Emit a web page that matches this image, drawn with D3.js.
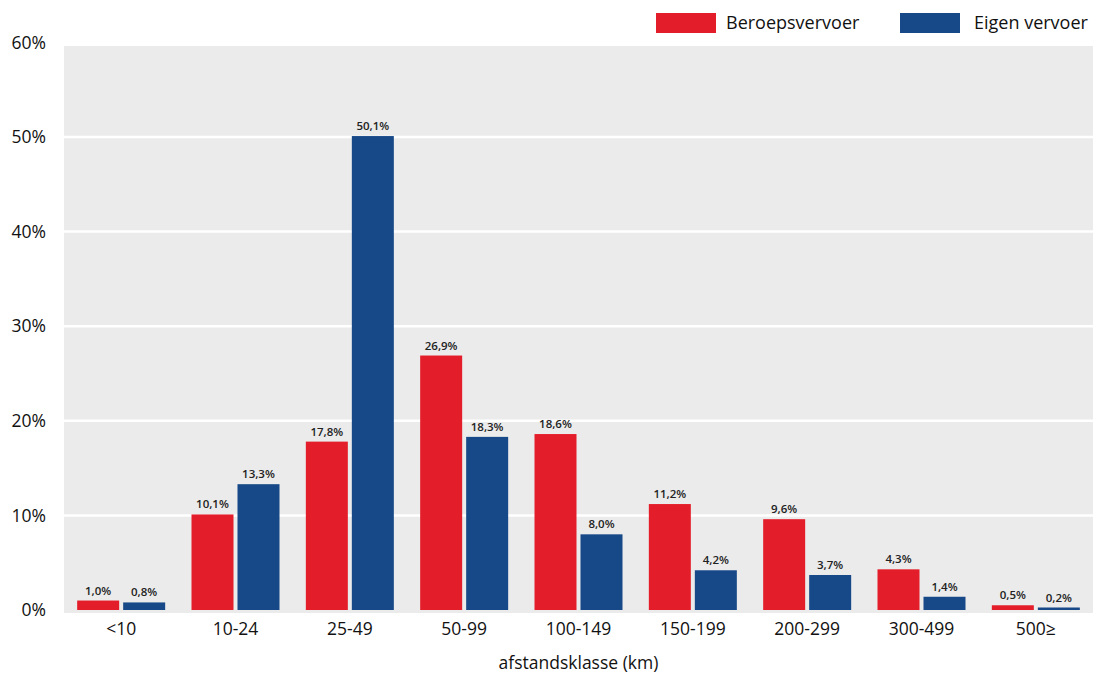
<!DOCTYPE html>
<html><head><meta charset="utf-8">
<script src="https://cdn.jsdelivr.net/npm/d3@7"></script>
<style>
body{margin:0;background:#fff;}
svg{display:block;font-family:"Open Sans","Noto Sans",sans-serif;}
</style></head>
<body>
<svg id="chart" width="1096" height="675"></svg>
<script>
const categories = ["<10","10-24","25-49","50-99","100-149","150-199","200-299","300-499","500≥"];
const beroeps = [1.0,10.1,17.8,26.9,18.6,11.2,9.6,4.3,0.5];
const eigen = [0.8,13.3,50.1,18.3,8.0,4.2,3.7,1.4,0.2];
const seriesNames = ["Beroepsvervoer","Eigen vervoer"];
const yTicks = [0,10,20,30,40,50,60];
const colors = ["#e31e2a","#174887"];

const svg = d3.select("#chart");
const left = 64, right = 1093, y0 = 610, yTop = 42.4;
const x = d3.scaleBand().domain(categories).range([left, right]).paddingInner(0).paddingOuter(0);
const y = d3.scaleLinear().domain([0,60]).range([y0, yTop]);
const fmt = v => d3.format(".1f")(v).replace(".", ",") + "%";

svg.append("rect").attr("x", left).attr("y", 46).attr("width", right-left).attr("height", 613-46).attr("fill", "#ebebeb");

svg.append("g").selectAll("line").data(yTicks.filter(t => t>0 && t<60)).join("line")
  .attr("x1", left).attr("x2", right).attr("y1", d=>y(d)).attr("y2", d=>y(d))
  .attr("stroke", "#fff").attr("stroke-width", 2.5);

const yAxis = d3.axisLeft(y).tickValues(yTicks).tickFormat(d => d + "%").tickSize(0).tickPadding(0);
const ga = svg.append("g").attr("transform", `translate(46,0)`).call(yAxis);
ga.select(".domain").remove();
ga.selectAll("text").attr("font-size", 17.5).attr("fill", "#111").attr("font-family", "'Open Sans','Noto Sans',sans-serif");

const xAxis = d3.axisBottom(x).tickSize(0).tickPadding(0);
const gx = svg.append("g").attr("transform", `translate(0,623)`).call(xAxis);
gx.select(".domain").remove();
gx.selectAll("text").attr("font-size", 17.5).attr("fill", "#111").attr("font-family", "'Open Sans','Noto Sans',sans-serif");

const barW = 42, gap = 4;
const data = [beroeps, eigen];
data.forEach((vals, si) => {
  const g = svg.append("g");
  const xs = (c) => x(c) + x.bandwidth()/2 + (si===0 ? -gap/2 - barW : gap/2);
  g.selectAll("rect").data(categories).join("rect")
    .attr("x", c => xs(c))
    .attr("width", barW)
    .attr("y", (c,i) => Math.min(y(vals[i]), y0-2.5))
    .attr("height", (c,i) => Math.max(y0 - y(vals[i]), 2.5))
    .attr("fill", colors[si]);
  g.selectAll("text").data(categories).join("text")
    .attr("x", c => xs(c) + barW/2)
    .attr("y", (c,i) => Math.min(y(vals[i]), y0-2.5) - 6)
    .attr("text-anchor", "middle")
    .attr("font-size", 11.5).attr("font-weight", 600).attr("fill", "#222")
    .text((c,i) => fmt(vals[i]));
});

svg.append("text").attr("x", (left+right)/2).attr("y", 669).attr("text-anchor","middle")
  .attr("font-size", 17.5).attr("fill", "#111").text("afstandsklasse (km)");

const legX = [656, 900];
seriesNames.forEach((n,i) => {
  svg.append("rect").attr("x", legX[i]).attr("y", 13).attr("width", 60).attr("height", 20).attr("fill", colors[i]);
  svg.append("text").attr("x", legX[i] + (i===0?70:74)).attr("y", 29).attr("font-size", 18).attr("fill", "#111").text(n);
});
</script>
</body></html>
